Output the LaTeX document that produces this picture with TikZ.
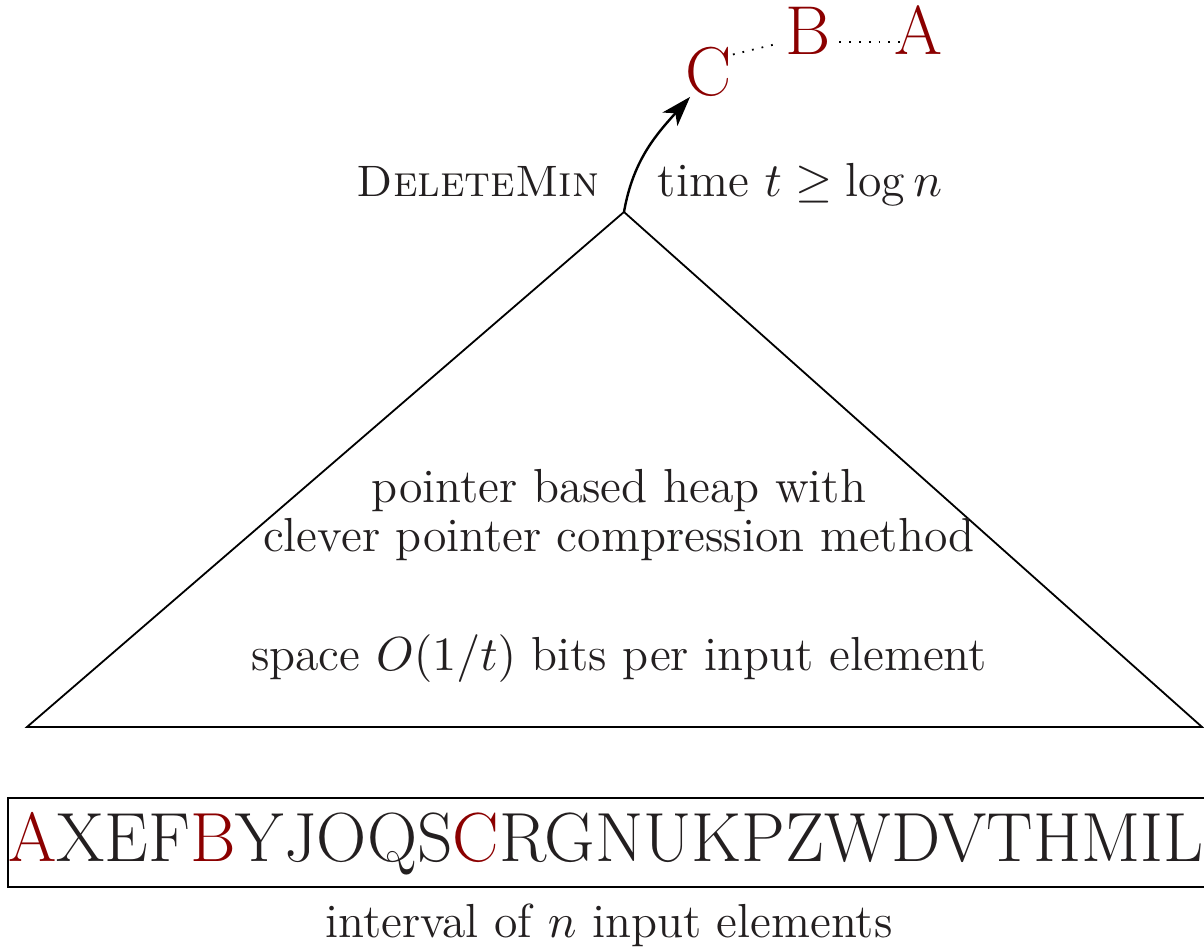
\RequirePackage{fix-cm}
\documentclass[tikz,border=0pt]{standalone}
\usepackage{fontspec}
\usetikzlibrary{arrows.meta}
\definecolor{ink}{RGB}{35,31,32}
\definecolor{dred}{RGB}{139,0,0}
\begin{document}
\begin{tikzpicture}[x=0.25pt,y=-0.25pt,
  txt/.style={text=ink, inner sep=0pt, font=\fontsize{11.95pt}{14.5pt}\selectfont},
  big/.style={font=\fontsize{17.3pt}{21pt}\selectfont, text=dred, inner sep=0pt, text height=11.8pt, text depth=5.3pt},
  edge/.style={line width=0.45pt},
  dotline/.style={dotted, line width=0.45pt}]
\useasboundingbox (0,0) rectangle (1204,948);
\clip (0,0) rectangle (1204,948);
% triangle
\coordinate (apex) at (624,212);
\coordinate (left) at (27,727);
\coordinate (right) at (1202,727);
\draw[edge, line join=miter] (apex) -- (left) -- (right) -- cycle;
% texts inside triangle
\node[txt, anchor=base] (l1) at (619,503) {pointer based heap with};
\node[txt, anchor=base] (l2) at (619,552) {clever pointer compression method};
\node[txt, anchor=base] (sp) at (619,671) {space $O(1/t)$ bits per input element};
% labels near apex
\node[txt, anchor=base, font=\fontsize{11pt}{13pt}\selectfont] (dm) at (478,197) {\textsc{DeleteMin}};
\node[txt, anchor=base] (tm) at (800,197) {time $t \geq \log n$};
% C B A
\node[big, anchor=base] (C) at (709,96) {C};
\node[big, anchor=base] (B) at (808,55) {B};
\node[big, anchor=base] (A) at (918,55) {A};
\draw[-{Stealth[length=7.5pt,width=5pt,inset=2pt]}, line width=0.6pt] (apex) to[out=80, in=228] ([shift={(5,-10)}]C.225);
\draw[dotline, shorten >=2.5pt] (C.50) -- (B.west);
\draw[dotline, shorten <=2pt, shorten >=-1.75pt] (B.east) -- (A.west);
% sequence box
\node[draw, line width=0.5pt, anchor=west, text=ink, font=\fontsize{17.4pt}{21pt}\selectfont,
  inner xsep=0.1pt, inner ysep=4.2pt, text height=11.8pt, text depth=2.05pt] (seq) at (7,842.5)
  {\textcolor{dred}{A}XEF\textcolor{dred}{B}YJOQS\textcolor{dred}{C}RGNUKPZWDVTHMIL\kern12pt};
\node[txt, anchor=base] (iv) at (609,938) {interval of $n$ input elements};
\end{tikzpicture}
\end{document}
